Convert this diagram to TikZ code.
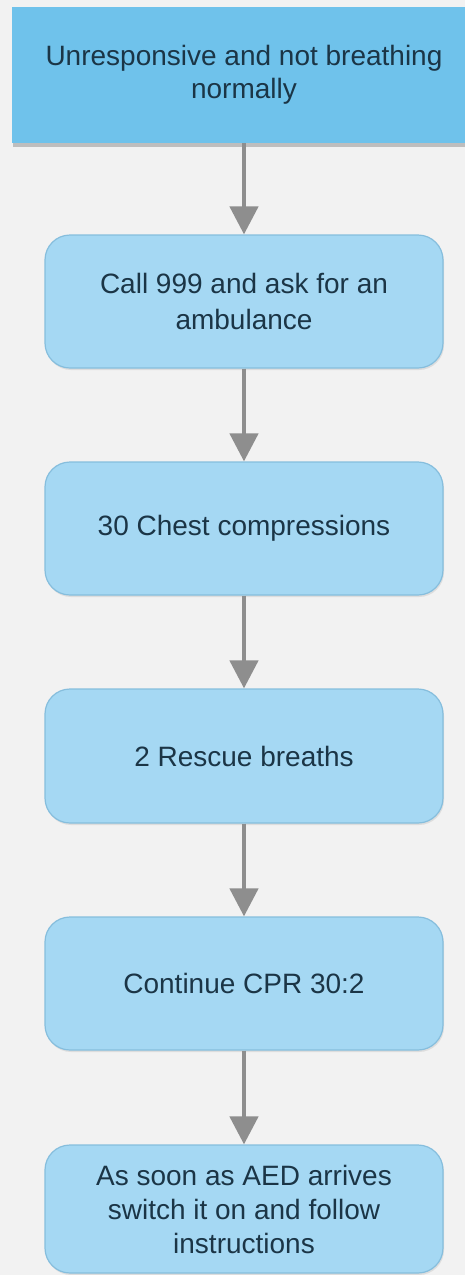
\documentclass[tikz,border=0pt]{standalone}
\usepackage{fontspec}
\setmainfont{Liberation Sans}
\usetikzlibrary{arrows.meta,shadows}
\definecolor{bgc}{HTML}{F2F2F2}
\definecolor{topfill}{HTML}{6FC2EB}
\definecolor{boxfill}{HTML}{A5D8F3}
\definecolor{boxedge}{HTML}{86BEDD}
\definecolor{txt}{HTML}{1B3546}
\definecolor{arr}{HTML}{8E8E8E}
\tikzset{
  stepbox/.style={draw=boxedge, line width=1.2pt, fill=boxfill, rounded corners=25pt,
    minimum width=398pt, inner sep=0pt, align=center, text=txt,
    font=\fontsize{28}{34}\selectfont,
    drop shadow={shadow xshift=1pt, shadow yshift=-2pt, opacity=0.18}},
  topbox/.style={draw=none, fill=topfill, minimum width=464pt, minimum height=136pt,
    inner sep=0pt, align=center, text=txt, font=\fontsize{28}{34}\selectfont,
    drop shadow={shadow xshift=1pt, shadow yshift=-4pt, opacity=0.45}},
  flow/.style={draw=arr, line width=4.5pt, -{Triangle[width=28pt,length=28pt]}, shorten >=0pt}
}
\begin{document}
\begin{tikzpicture}[x=1pt,y=-1pt]
\fill[bgc] (0,0) rectangle (465,1275);
\useasboundingbox (0,0) rectangle (465,1275);
\clip (0,0) rectangle (465,1275);
\node[topbox] (n1) at (244,75) {Unresponsive and not breathing\\[-1pt]normally};
\node[stepbox, minimum height=133pt] (n2) at (244,301.5) {Call 999 and ask for an\\[2pt]ambulance};
\node[stepbox, minimum height=133pt] (n3) at (244,528.5) {30 Chest compressions};
\node[stepbox, minimum height=134pt] (n4) at (244,756) {2 Rescue breaths};
\node[stepbox, minimum height=133pt] (n5) at (244,983.5) {Continue CPR 30:2};
\node[stepbox, minimum height=128pt] (n6) at (244,1209) {As soon as AED arrives\\switch it on and follow\\instructions};
\draw[flow] (n1.south) -- (n2.north);
\draw[flow] (n2.south) -- (n3.north);
\draw[flow] (n3.south) -- (n4.north);
\draw[flow] (n4.south) -- (n5.north);
\draw[flow] (n5.south) -- (n6.north);
\end{tikzpicture}
\end{document}
